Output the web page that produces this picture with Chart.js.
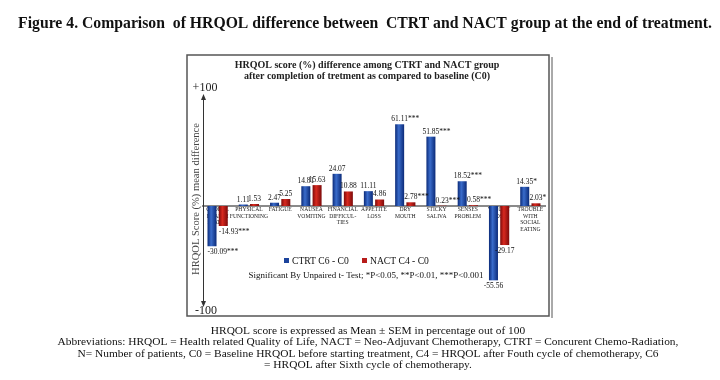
<!DOCTYPE html>
<html>
<head>
<meta charset="utf-8">
<script src="https://cdn.jsdelivr.net/npm/chart.js@4.4.1/dist/chart.umd.min.js"></script>
<style>
html,body{margin:0;padding:0;background:#fff;}
#c{display:block;}
</style>
</head>
<body>
<canvas id="c" width="720" height="380"></canvas>
<script>
// ---- data ----
const categories = [
  ["GLOBAL","HEALTH","STATUS"],
  ["PHYSICAL","FUNCTIONING"],
  ["FATIGUE"],
  ["NAUSEA","VOMITING"],
  ["FINANCIAL","DIFFICUL-","TIES"],
  ["APPETITE","LOSS"],
  ["DRY","MOUTH"],
  ["STICKY","SALIVA"],
  ["SENSES","PROBLEM"],
  ["WEIGHT","LOSS"],
  ["TROUBLE","WITH","SOCIAL","EATING"]
];
const ctrtValues = [-30.09, 1.11, 2.47, 14.81, 24.07, 11.11, 61.11, 51.85, 18.52, -55.56, 14.35];
const nactValues = [-14.93, 1.53, 5.25, 15.63, 10.88, 4.86, 2.78, 0.23, 0.58, -29.17, 2.03];
const ctrtSig = ["***","","","","","","***","***","***","","*"];
const nactSig = ["***","","","","","","***","***","***","","*"];
const seriesNames = ["CTRT C6 - C0", "NACT C4 - C0"];
const axisEndLabels = ["+100", "-100"];
const figureTitle = "Figure 4. Comparison  of HRQOL difference between  CTRT and NACT group at the end of treatment.";
const chartTitle = ["HRQOL score (%) difference among CTRT and NACT group", "after completion of tretment as compared to baseline (C0)"];
const yTitle = "HRQOL Score (%) mean difference";
const sigNote = "Significant By Unpaired t- Test; *P<0.05, **P<0.01, ***P<0.001";
const footnotes = [
  "HRQOL score is expressed as Mean \u00B1 SEM in percentage out of 100",
  "Abbreviations: HRQOL = Health related Quality of Life, NACT = Neo-Adjuvant Chemotherapy, CTRT = Concurent Chemo-Radiation,",
  "N= Number of patients, C0 = Baseline HRQOL before starting treatment, C4 = HRQOL after Fouth cycle of chemotherapy, C6",
  "= HRQOL after Sixth cycle of chemotherapy."
];

const SERIF = '"Liberation Serif", "DejaVu Serif", serif';
const BLUE = '#1c439c';
const RED = '#b71c1a';
const CAT_PCT = 0.72, BAR_PCT = 0.8;
const SHADES = [['#0b2a78', '#3a6ccb'], ['#7c0a0a', '#d8291f']];

function fitFont(ctx, text, weight, target, base) {
  ctx.font = weight + ' ' + base + 'px ' + SERIF;
  const w = ctx.measureText(text).width;
  const s = base * target / w;
  ctx.font = weight + ' ' + s.toFixed(2) + 'px ' + SERIF;
}

function barFill(context) {
  const chart = context.chart;
  const di = context.datasetIndex;
  const xs = chart.scales && chart.scales.x;
  if (!chart.chartArea || !xs || context.dataIndex === undefined) return di === 0 ? BLUE : RED;
  const slot = xs.width / categories.length * CAT_PCT / 2;
  const cx = xs.getPixelForValue(context.dataIndex) + (di - 0.5) * slot;
  const hw = slot * BAR_PCT / 2;
  const g = chart.ctx.createLinearGradient(cx - hw, 0, cx + hw, 0);
  g.addColorStop(0, SHADES[di][0]);
  g.addColorStop(0.4, SHADES[di][1]);
  g.addColorStop(1, SHADES[di][0]);
  return g;
}

const decor = {
  id: 'decor',
  beforeDraw(chart) {
    const ctx = chart.ctx;
    ctx.save();
    ctx.fillStyle = '#fff';
    ctx.fillRect(0, 0, chart.width, chart.height);
    ctx.restore();
  },
  beforeDatasetsDraw(chart) {
    const ctx = chart.ctx, a = chart.chartArea, y = chart.scales.y;
    const y0 = y.getPixelForValue(0);
    ctx.save();
    ctx.strokeStyle = '#8a8a8a';
    ctx.lineWidth = 2;
    ctx.beginPath();
    ctx.moveTo(a.left, y0);
    ctx.lineTo(a.right, y0);
    ctx.stroke();
    // category labels
    ctx.fillStyle = '#222';
    ctx.font = '5.6px ' + SERIF;
    ctx.textAlign = 'center';
    ctx.textBaseline = 'middle';
    const xs = chart.scales.x;
    categories.forEach((lines, i) => {
      const cx = xs.getPixelForValue(i);
      lines.forEach((t, k) => ctx.fillText(t, cx, y0 + 4 + k * 6.5));
    });
    ctx.restore();
  },
  afterDraw(chart) {
    const ctx = chart.ctx;
    ctx.save();
    // figure title
    ctx.fillStyle = '#111';
    ctx.textAlign = 'center';
    ctx.textBaseline = 'middle';
    fitFont(ctx, figureTitle, 'bold', 694, 15);
    ctx.fillText(figureTitle, 365, 24);

    // outer box
    ctx.strokeStyle = '#555';
    ctx.lineWidth = 1.5;
    ctx.strokeRect(187, 55, 362, 261);
    ctx.lineWidth = 1;
    ctx.beginPath();
    ctx.moveTo(552, 57); ctx.lineTo(552, 318); ctx.stroke();

    // chart title
    ctx.fillStyle = '#222';
    ctx.font = 'bold 10px ' + SERIF;
    ctx.fillText(chartTitle[0], 367, 65);
    ctx.fillText(chartTitle[1], 367, 76);

    // y axis arrow
    const ax = 203.5;
    ctx.strokeStyle = '#333';
    ctx.lineWidth = 1;
    ctx.beginPath();
    ctx.moveTo(ax, 97); ctx.lineTo(ax, 304); ctx.stroke();
    ctx.fillStyle = '#333';
    ctx.beginPath(); ctx.moveTo(ax, 94); ctx.lineTo(ax - 2.5, 100); ctx.lineTo(ax + 2.5, 100); ctx.closePath(); ctx.fill();
    ctx.beginPath(); ctx.moveTo(ax, 307); ctx.lineTo(ax - 2.5, 301); ctx.lineTo(ax + 2.5, 301); ctx.closePath(); ctx.fill();
    ctx.fillStyle = '#222';
    ctx.font = '12px ' + SERIF;
    ctx.fillText(axisEndLabels[0], 205, 88);
    ctx.fillText(axisEndLabels[1], 206, 311);

    // y title
    ctx.save();
    ctx.translate(196, 199);
    ctx.rotate(-Math.PI / 2);
    ctx.fillStyle = '#444';
    fitFont(ctx, yTitle, 'normal', 152, 11);
    ctx.fillText(yTitle, 0, 0);
    ctx.restore();

    // value labels: numeric part centred on the bar, stars trailing
    ctx.fillStyle = '#111';
    ctx.font = '7.5px ' + SERIF;
    ctx.textAlign = 'left';
    const sigs = [ctrtSig, nactSig];
    chart.data.datasets.forEach((ds, di) => {
      const meta = chart.getDatasetMeta(di);
      meta.data.forEach((bar, i) => {
        const v = ds.data[i];
        const num = v.toFixed(2);
        const txt = num + sigs[di][i];
        const nw = ctx.measureText(num).width;
        let x = bar.x - nw / 2;
        if (v >= 0) ctx.fillText(txt, x, bar.y - 5);
        else {
          if (sigs[di][i]) x = bar.x - bar.width / 2;
          ctx.fillText(txt, x, bar.y + 6);
        }
      });
    });

    // legend
    ctx.textAlign = 'left';
    ctx.font = '9.6px ' + SERIF;
    ctx.fillStyle = BLUE;
    ctx.fillRect(284, 258, 5, 5);
    ctx.fillStyle = '#111';
    ctx.fillText(seriesNames[0], 292, 261);
    ctx.fillStyle = RED;
    ctx.fillRect(362, 258, 5, 5);
    ctx.fillStyle = '#111';
    ctx.fillText(seriesNames[1], 370, 261);

    // significance note
    ctx.textAlign = 'center';
    fitFont(ctx, sigNote, 'normal', 235, 9);
    ctx.fillText(sigNote, 366, 276);

    // footnotes
    ctx.font = '11.4px ' + SERIF;
    const fy = [331, 342.5, 354, 365.5];
    footnotes.forEach((t, i) => ctx.fillText(t, 368, fy[i]));
    ctx.restore();
  }
};

new Chart(document.getElementById('c'), {
  type: 'bar',
  data: {
    labels: categories.map(l => l.join(' ')),
    datasets: [
      { label: seriesNames[0], data: ctrtValues, backgroundColor: barFill, borderWidth: 0 },
      { label: seriesNames[1], data: nactValues, backgroundColor: barFill, borderWidth: 0 }
    ]
  },
  options: {
    responsive: false,
    animation: false,
    devicePixelRatio: 1,
    layout: { padding: { left: 202, right: 174, top: 95, bottom: 75 } },
    datasets: { bar: { categoryPercentage: CAT_PCT, barPercentage: BAR_PCT } },
    plugins: { legend: { display: false }, tooltip: { enabled: false }, title: { display: false } },
    scales: {
      x: { display: false },
      y: { display: false, min: -74, max: 83 }
    }
  },
  plugins: [decor]
});
</script>
</body>
</html>
